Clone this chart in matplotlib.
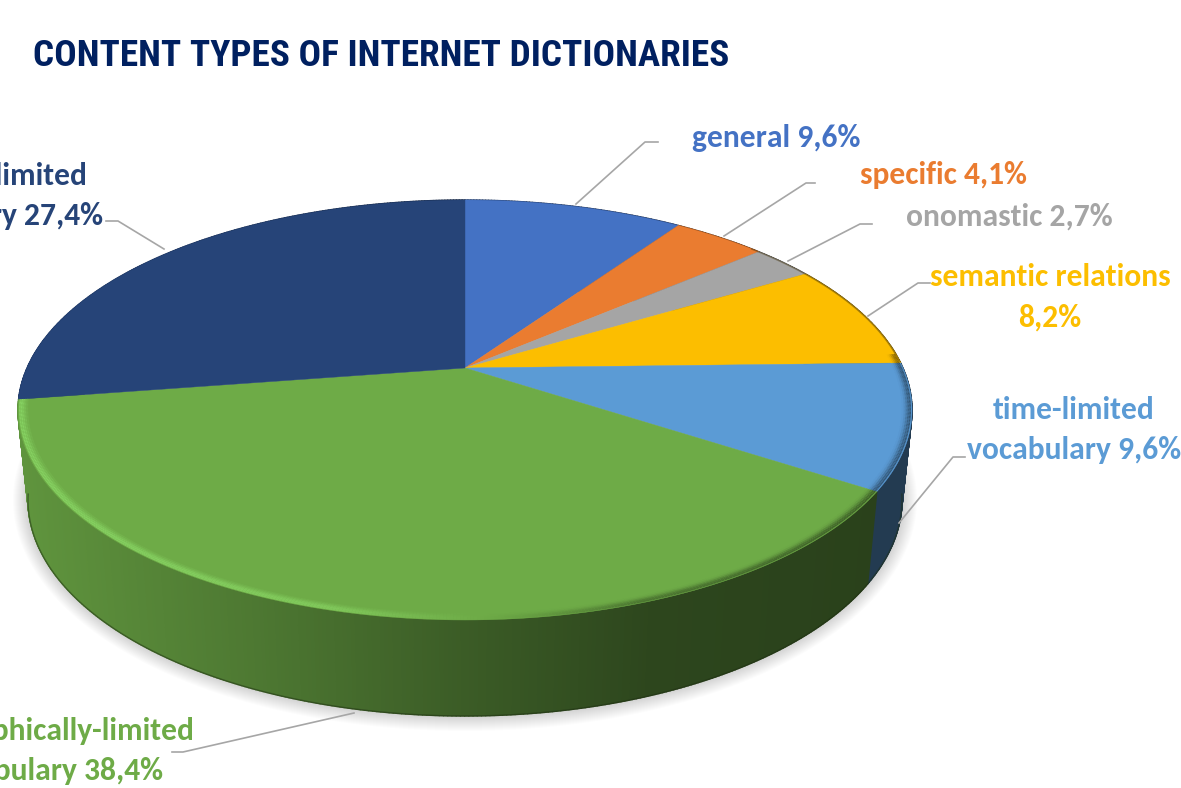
import numpy as np
import matplotlib
matplotlib.use("Agg")
import matplotlib.pyplot as plt
from matplotlib import font_manager as fm
from matplotlib.collections import LineCollection, PolyCollection
from matplotlib.colors import to_rgb

TITLE = "CONTENT TYPES OF INTERNET DICTIONARIES"
categories = ["general", "specific", "onomastic", "semantic relations",
              "time-limited vocabulary", "geographically-limited vocabulary",
              "socially-limited vocabulary"]
shares = [9.6, 4.1, 2.7, 8.2, 9.6, 38.4, 27.4]
colors = ["#4472C4", "#EA7C30", "#A5A5A5", "#FCBE00", "#5B9BD5", "#6EAB47", "#264478"]
label_texts = ["general 9,6%", "specific 4,1%", "onomastic 2,7%",
               "semantic relations\n8,2%", "time-limited\nvocabulary 9,6%",
               "geographically-limited\nvocabulary 38,4%",
               "socially-limited\nvocabulary 27,4%"]
label_xy = [(776, 138), (943, 175), (1009, 217), (1050, 297), (1074, 430), (48, 751), (-12, 196)]
leaders = [[(576, 204), (645, 142), (658, 142)],
           [(724, 236), (806, 183), (815, 183)],
           [(788, 261), (860, 224), (872, 224)],
           [(868, 316), (918, 283), (930, 283)],
           [(899, 523), (953, 457), (965, 457)],
           [(354, 713), (183, 752), (172, 752)],
           [(164, 249), (118, 221), (106, 221)]]


def pick_font(names):
    for name in names:
        try:
            fm.findfont(name, fallback_to_default=False)
            return name
        except ValueError:
            continue
    return "DejaVu Sans"


# Perspective view of a flat disc: the disc centre sits above the centre of its outline.
TILT = 0.2
TOP = dict(cx=465.0, cy=410.0, rx=447.0, ry=210.0)
BOTTOM = dict(cx=465.0, cy=500.0, rx=437.0, ry=216.0)


def disc(theta, ring, r=1.0):
    u, v = r * np.sin(theta), r * np.cos(theta)
    d = 1 + TILT * v
    return (ring["cx"] + ring["rx"] * u * np.sqrt(1 - TILT ** 2) / d,
            ring["cy"] - ring["ry"] * (v + TILT) / d)


def wall_shade(x):
    return np.interp(x, [20, 260, 460, 650, 880], [0.87, 0.70, 0.54, 0.41, 0.38])


fig = plt.figure(figsize=(11.81, 7.88), dpi=100)
ax = fig.add_axes([0, 0, 1, 1])
ax.set_xlim(0, 1181)
ax.set_ylim(788, 0)
ax.axis("off")

edges = np.radians(np.concatenate([[0], np.cumsum(shares)]) * 3.6)

# soft drop shadow around the lower outline
full = np.linspace(0, 2 * np.pi, 400)
for grow in np.linspace(15, 1, 15):
    ring = dict(BOTTOM, rx=BOTTOM["rx"] + grow, ry=BOTTOM["ry"] + grow)
    ax.fill(*disc(full, ring), color="#000000", alpha=0.012, lw=0, zorder=1)

# side wall, back slices first so the front ones cover them
midpoints = (edges[:-1] + edges[1:]) / 2
back_to_front = np.argsort(-np.cos(midpoints))
strips, strip_colors = [], []
for i in back_to_front:
    span = np.linspace(edges[i], edges[i + 1], max(4, int(shares[i] * 8)))
    rgb = np.array(to_rgb(colors[i]))
    for a0, a1 in zip(span[:-1], span[1:]):
        xa, ya = disc(np.array([a0, a1]), TOP)
        xb, yb = disc(np.array([a1, a0]), BOTTOM)
        strips.append(np.column_stack([np.r_[xa, xb], np.r_[ya, yb]]))
        strip_colors.append(tuple(rgb * wall_shade((xa.mean() + xb.mean()) / 2)))
ax.add_collection(PolyCollection(strips, facecolors=strip_colors, edgecolors=strip_colors,
                                 linewidths=1.0, zorder=2))

# dark line along the lower edge of the wall
low = np.radians(np.linspace(100, 260, 300))
bx, by = disc(low, BOTTOM)
ax.plot(bx, by, color="#1E2E12", lw=1.0, alpha=0.5, zorder=2.5)

# top face
for i, base in enumerate(colors):
    span = np.linspace(edges[i], edges[i + 1], 120)
    ex, ey = disc(span, TOP)
    cx0, cy0 = disc(np.array([0.0]), TOP, r=0.0)
    ax.fill(np.r_[cx0, ex], np.r_[cy0, ey], color=base, lw=0.3, zorder=3)

# thin dark edge on the upper right of the rim
upper = np.radians(np.linspace(48, 88, 80))
ux, uy = disc(upper, TOP, r=0.999)
ax.plot(ux, uy, color="#4A3A10", lw=1.0, alpha=0.45, zorder=4)

# bevel along the front rim: light on the left, dark on the right
bright = np.array(to_rgb("#8CDB68"))
for r, weight in [(0.980, 0.2), (0.984, 0.45), (0.988, 0.75), (0.992, 0.95), (0.996, 0.9)]:
    for i, base in enumerate(colors):
        span = np.linspace(edges[i], edges[i + 1], max(6, int(shares[i] * 10)))
        span = span[(span > np.radians(86)) & (span < np.radians(262))]
        if span.size < 2:
            continue
        x, y = disc(span, TOP, r=r)
        pts = np.column_stack([x, y])
        segs = np.stack([pts[:-1], pts[1:]], axis=1)
        seg_x = (x[:-1] + x[1:]) / 2
        rgb = np.array(to_rgb(base))
        light = np.interp(seg_x, [20, 330, 480], [0.85, 0.65, 0.0])
        dark = np.interp(seg_x, [480, 640, 900], [0.0, 0.55, 0.75]) * (r - 0.975) / 0.02
        cols = []
        for s_x, l, k in zip(seg_x, light, dark):
            c = rgb * (1 - k * weight) + rgb * wall_shade(s_x) * k * weight
            tint = bright if i == 5 else rgb
            c = c * (1 - l * weight) + tint * l * weight
            cols.append(tuple(np.clip(c, 0, 1)))
        ax.add_collection(LineCollection(segs, colors=cols, linewidths=1.3, zorder=4))

# leader lines
for path in leaders:
    px, py = zip(*path)
    ax.plot(px, py, color="#A6A6A6", lw=1.2, zorder=5, solid_joinstyle="round")

label_font = pick_font(["Carlito", "Lato", "Open Sans"])
for text, (lx, ly), base in zip(label_texts, label_xy, colors):
    ax.text(lx, ly, text, color=base, family=label_font, weight="bold", fontsize=22.7,
            ha="center", va="center", linespacing=1.55, zorder=6, clip_on=False)

title_font = pick_font(["Liberation Sans Narrow", "Roboto Condensed", "Liberation Sans"])
ax.text(33, 56, TITLE, color="#002060", family=title_font, weight="bold", fontsize=26.8,
        ha="left", va="center", zorder=6)

fig.savefig("out.png", dpi=100, facecolor="white")
